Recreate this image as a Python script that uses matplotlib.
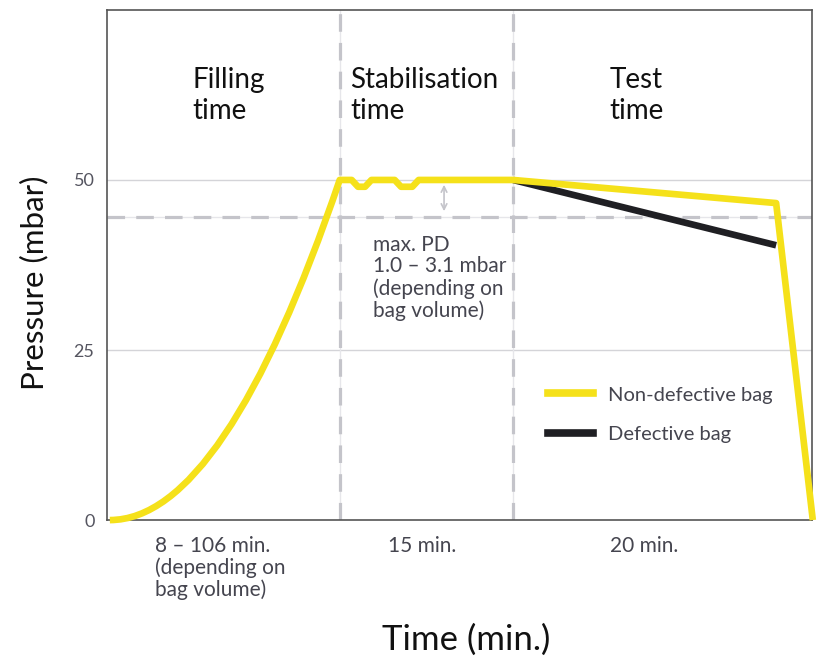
import matplotlib
matplotlib.use("Agg")
import matplotlib.pyplot as plt
from matplotlib.path import Path
from matplotlib.patches import PathPatch
from matplotlib.lines import Line2D

plt.rcParams['font.family'] = ['Lato', 'DejaVu Sans']

# phase boundaries (x in relative time units, 0..100)
phase_x = [33.05, 57.6]
pd_level = 44.6

# non-defective bag: filling curve (quadratic bezier, 2nd point is the control point),
# stabilisation plateau with small dips, test, release
good_x = [0.4, 16.6, 33.0,
          34.7, 35.6, 36.6, 37.5, 40.8, 41.7, 43.3, 44.2, 57.6, 94.9, 100.1]
good_y = [0.0, 0.0, 50.0,
          50.0, 49.0, 49.0, 50.0, 50.0, 49.0, 49.0, 50.0, 50.0, 46.6, 0.0]
good_codes = [Path.MOVETO, Path.CURVE3, Path.CURVE3] + [Path.LINETO] * 11

# defective bag during test time
bad_x = [57.6, 94.9]
bad_y = [50.0, 40.4]

yticks = [0, 25, 50]

yellow = '#F5E11A'
dark = '#1f1f23'
grey_txt = '#45454f'

fig = plt.figure(figsize=(8.17, 6.6), dpi=100)
ax = fig.add_axes([0.131, 0.212, 0.863, 0.773])
ax.set_xlim(0, 100)
ax.set_ylim(0, 75)

# grid lines
for y in [25, 50]:
    ax.axhline(y, color='#d4d4d8', lw=1, zorder=1)
for x in phase_x:
    ax.axvline(x, color='#e6e6ea', lw=1, zorder=1)
    ax.axvline(x, color='#c4c4ca', lw=2.3, dashes=(5.5, 3.5), zorder=1)
ax.axhline(pd_level, color='#e6e6ea', lw=1, zorder=1)
ax.axhline(pd_level, color='#c4c4ca', lw=2.3, dashes=(5.5, 3.5), zorder=1)

ax.plot(bad_x, bad_y, color=dark, lw=4.8, solid_capstyle='butt', zorder=3)
good_path = Path(list(zip(good_x, good_y)), good_codes)
ax.add_patch(PathPatch(good_path, facecolor='none', edgecolor=yellow, lw=4.8,
                       joinstyle='round', capstyle='butt', zorder=4, clip_on=False))

# max. PD arrow
ax.annotate('', xy=(47.8, 49.7), xytext=(47.8, 45.0),
            arrowprops=dict(arrowstyle='<->', color='#c4c4ca', lw=1.2))

ax.set_yticks(yticks)
ax.set_yticklabels([str(v) for v in yticks], fontsize=13, color='#555560')
ax.tick_params(axis='y', length=0, pad=9)
ax.set_xticks([])
for s in ax.spines.values():
    s.set_color('#555555')
    s.set_linewidth(1.2)

# phase headings
heads = [(12.06, 'Filling\ntime'), (34.5, 'Stabilisation\ntime'), (71.3, 'Test\ntime')]
for x, t in heads:
    ax.text(x, 62.4, t, fontsize=20, color='#111111', ha='left', va='center',
            linespacing=1.25)

ax.text(37.7, 35.6, 'max. PD\n1.0 – 3.1 mbar\n(depending on\nbag volume)',
        fontsize=15, color=grey_txt, ha='left', va='center', linespacing=1.1)

# durations below the axis
ax.text(6.8, -2.3, '8 – 106 min.\n(depending on\nbag volume)', fontsize=15,
        color=grey_txt, ha='left', va='top', linespacing=1.1, clip_on=False)
ax.text(39.9, -2.3, '15 min.', fontsize=15, color=grey_txt, ha='left', va='top')
ax.text(71.3, -2.3, '20 min.', fontsize=15, color=grey_txt, ha='left', va='top')

ax.text(50.9, -17.6, 'Time (min.)', fontsize=25, color='#111111',
        ha='center', va='center')
fig.text(0.042, 0.571, 'Pressure (mbar)', fontsize=22.5, color='#111111',
         ha='center', va='center', rotation=90)

handles = [Line2D([], [], color=yellow, lw=5.5), Line2D([], [], color=dark, lw=5.5)]
leg = ax.legend(handles, ['Non-defective bag', 'Defective bag'], loc='upper left',
                bbox_to_anchor=(0.626, 0.262), frameon=False, fontsize=14.5,
                handlelength=2.2, handletextpad=0.75, labelspacing=1.1,
                borderpad=0, borderaxespad=0)
for t in leg.get_texts():
    t.set_color(grey_txt)

fig.savefig('out.png', dpi=100)
